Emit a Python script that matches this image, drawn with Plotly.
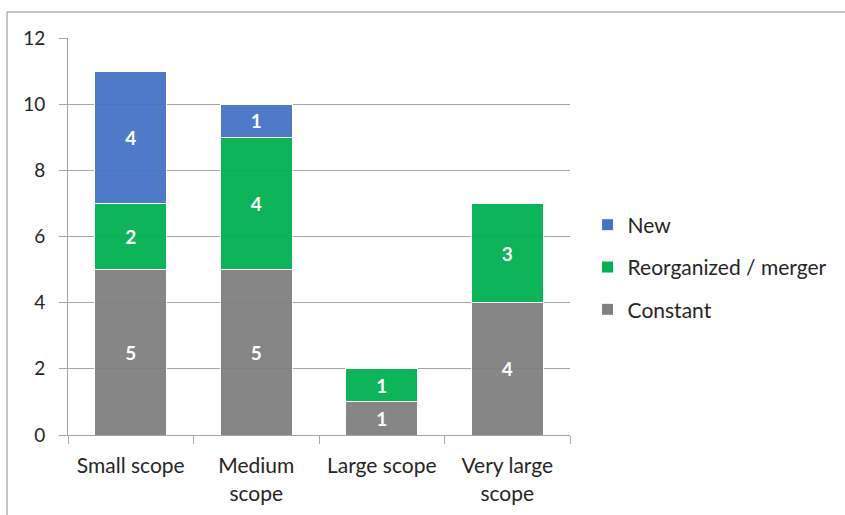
import plotly.graph_objects as go

# Scope categories (two-line tick labels)
categories = ["Small scope", "Medium<br>scope", "Large scope", "Very large<br>scope"]

# Counts per status, stacked bottom to top
constant = [5, 5, 1, 4]
reorganized = [2, 4, 1, 3]
new = [4, 1, 0, 0]

# (name, values, colour, legend rank)
series = [
    ("Constant", constant, "#7F7F7F", 3),
    ("Reorganized / merger", reorganized, "#00B050", 2),
    ("New", new, "#4472C4", 1),
]

FONT = "Lato, Open Sans, sans-serif"

fig = go.Figure()
for i, (name, vals, color, rank) in enumerate(series):
    labels = [str(v) if v else "" for v in vals]
    fig.add_trace(go.Bar(
        x=categories,
        y=vals,
        name=name,
        legendgroup=f"g{i}",
        legendrank=rank,
        marker=dict(color=color, opacity=0.94, line=dict(color="white", width=1)),
        text=labels,
        textposition="inside",
        insidetextanchor="middle",
        textangle=0,
        textfont=dict(color="white", size=19, family=FONT, weight="bold"),
        hoverinfo="skip",
    ))

fig.update_layout(
    width=845,
    height=515,
    barmode="stack",
    bargap=0.426,
    plot_bgcolor="white",
    paper_bgcolor="white",
    margin=dict(l=68, r=275, t=38, b=80),
    font=dict(family=FONT, size=18, color="#262626"),
    showlegend=True,
    legend=dict(
        x=1.035,
        y=0.423,
        xanchor="left",
        yanchor="middle",
        traceorder="grouped",
        tracegroupgap=12,
        font=dict(size=21, color="#262626", family=FONT),
        itemwidth=30,
    ),
    shapes=[
        # outer chart frame (only top and left edges fall inside the page)
        dict(type="rect", xref="paper", yref="paper",
             x0=-0.1215, x1=1.6, y0=-0.3, y1=1.0655,
             line=dict(color="#8C8C8C", width=1), fillcolor="rgba(0,0,0,0)",
             layer="below"),
    ],
)

fig.update_yaxes(
    range=[0, 12],
    tickvals=[0, 2, 4, 6, 8, 10, 12],
    showgrid=True,
    gridcolor="#A6A6A6",
    gridwidth=1,
    showline=True,
    linecolor="#A6A6A6",
    ticks="outside",
    ticklen=8,
    tickcolor="#A6A6A6",
    ticklabelstandoff=10,
    tickfont=dict(size=19, family=FONT, color="#262626"),
    zeroline=False,
    automargin=False,
)

fig.update_xaxes(
    showline=True,
    linecolor="#A6A6A6",
    ticks="outside",
    tickson="boundaries",
    ticklen=8,
    tickcolor="#A6A6A6",
    tickfont=dict(size=21, family=FONT, color="#262626"),
    ticklabelstandoff=12,
    automargin=False,
)

fig.write_html("out.html")
